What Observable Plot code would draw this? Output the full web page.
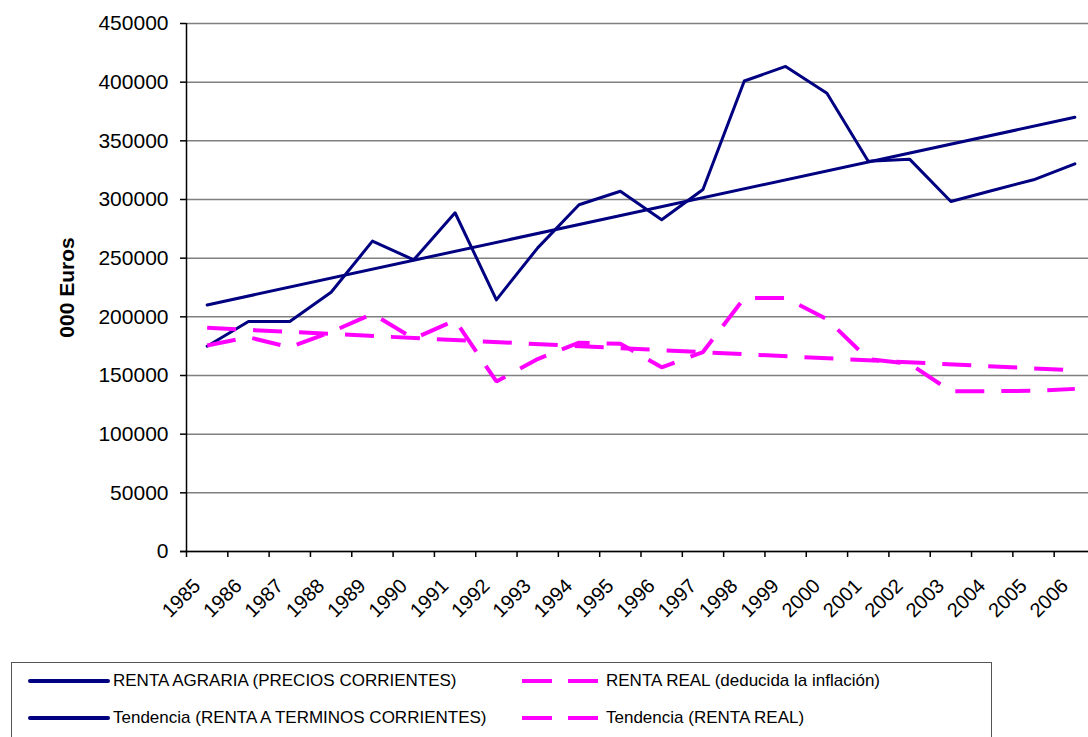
<!DOCTYPE html>
<html><head><meta charset="utf-8">
<script src="https://cdn.jsdelivr.net/npm/d3@7"></script>
<script src="https://cdn.jsdelivr.net/npm/@observablehq/plot@0.6"></script>
<style>
body{margin:0;background:#fff;font-family:"Liberation Sans",Arial,sans-serif;}
#wrap{position:relative;width:1088px;height:737px;overflow:hidden;background:#fff;}
#legend{position:absolute;left:11px;top:662px;width:981px;height:120px;border:1.5px solid #555;box-sizing:border-box;}
.lt{position:absolute;font-size:17px;line-height:20px;color:#000;white-space:nowrap;}
.ln{position:absolute;height:4px;}
</style></head><body><div id="wrap"><div id="chart"></div><div id="legend"></div></div>
<script>
const years = [1985,1986,1987,1988,1989,1990,1991,1992,1993,1994,1995,1996,1997,1998,1999,2000,2001,2002,2003,2004,2005,2006];
const rentaCorrientes = [175000,196000,196000,221000,264500,248600,288700,214500,258800,295500,307000,282700,308500,401000,413400,390600,332600,334400,298300,307700,316800,330400];
const rentaReal = [175600,182600,174100,187000,202600,181500,197000,144900,164000,178000,177000,157000,170000,216000,216000,198000,164000,160000,136600,136600,137000,138600];
const yTicks = [0,50000,100000,150000,200000,250000,300000,350000,400000,450000];
const seriesNames = ["RENTA AGRARIA (PRECIOS CORRIENTES)","RENTA REAL (deducida la inflación)","Tendencia (RENTA A TERMINOS CORRIENTES)","Tendencia (RENTA REAL)"];
const colors = {corrientes:"#000080", real:"#FF00FF"};

const dataC = years.map((year,i)=>({year, value: rentaCorrientes[i]}));
const dataR = years.map((year,i)=>({year, value: rentaReal[i]}));
const xDomain = [years[0]-0.5, years[years.length-1]+0.5];
const boundaries = years.map(y => y - 0.5);
const dash = "29,17";

const chart = Plot.plot({
  width: 1088, height: 640,
  marginLeft: 186, marginRight: 0, marginTop: 23, marginBottom: 89,
  style: {fontFamily: "'Liberation Sans', Arial, sans-serif", background: "white"},
  x: {type: "linear", domain: xDomain, range: [186, 1095]},
  y: {domain: [0, 450000]},
  marks: [
    Plot.ruleY(yTicks, {stroke: "#808080", strokeWidth: 1.5}),
    Plot.axisY({ticks: yTicks, tickSize: 6, tickPadding: 12, fontSize: 21, tickFormat: d3.format("d"), label: null, strokeWidth: 1.5}),
    Plot.ruleX([xDomain[0]], {stroke: "black", strokeWidth: 1.5}),
    Plot.ruleY([0], {stroke: "black", strokeWidth: 1.5, insetLeft: -6}),
    Plot.axisX({ticks: boundaries, tickSize: 6, tickFormat: () => "", label: null, strokeWidth: 1.5}),
    Plot.axisX({ticks: years, tickSize: 0, tickPadding: 31, tickRotate: -45, fontSize: 20, tickFormat: d => String(d), dx: -10, label: null}),
    Plot.line(dataC, {x: "year", y: "value", stroke: colors.corrientes, strokeWidth: 3}),
    Plot.line(dataR, {x: "year", y: "value", stroke: colors.real, strokeWidth: 4, strokeDasharray: dash, strokeLinecap: "butt", strokeLinejoin: "miter"}),
    Plot.linearRegressionY(dataC, {x: "year", y: "value", stroke: colors.corrientes, strokeWidth: 3, ci: 0}),
    Plot.linearRegressionY(dataR, {x: "year", y: "value", stroke: colors.real, strokeWidth: 4, strokeDasharray: dash, strokeLinecap: "butt", ci: 0}),
    Plot.text(["000 Euros"], {frameAnchor: "left", textAnchor: "middle", lineAnchor: "middle", dx: -119, rotate: -90, fontSize: 21, fontWeight: "bold"})
  ]
});
document.getElementById("chart").appendChild(chart);

// legend
const wrap = document.getElementById("wrap");
const items = [
  {name: seriesNames[0], color: colors.corrientes, dashed: false, row: 0},
  {name: seriesNames[1], color: colors.real, dashed: true, row: 0},
  {name: seriesNames[2], color: colors.corrientes, dashed: false, row: 1},
  {name: seriesNames[3], color: colors.real, dashed: true, row: 1}
];
const rowY = [681, 718];
items.forEach(it => {
  const cy = rowY[it.row];
  if (!it.dashed) {
    const l = document.createElement("div");
    l.className = "ln";
    l.style.cssText = `left:28px;top:${cy-2}px;width:82px;background:${it.color};border-radius:2px;`;
    wrap.appendChild(l);
    const t = document.createElement("div");
    t.className = "lt"; t.textContent = it.name;
    t.style.cssText = `left:113px;top:${cy-10}px;`;
    wrap.appendChild(t);
  } else {
    [522, 568].forEach(x0 => {
      const l = document.createElement("div");
      l.className = "ln";
      l.style.cssText = `left:${x0}px;top:${cy-2}px;width:30px;background:${it.color};`;
      wrap.appendChild(l);
    });
    const t = document.createElement("div");
    t.className = "lt"; t.textContent = it.name;
    t.style.cssText = `left:606px;top:${cy-10}px;`;
    wrap.appendChild(t);
  }
});
</script></body></html>
